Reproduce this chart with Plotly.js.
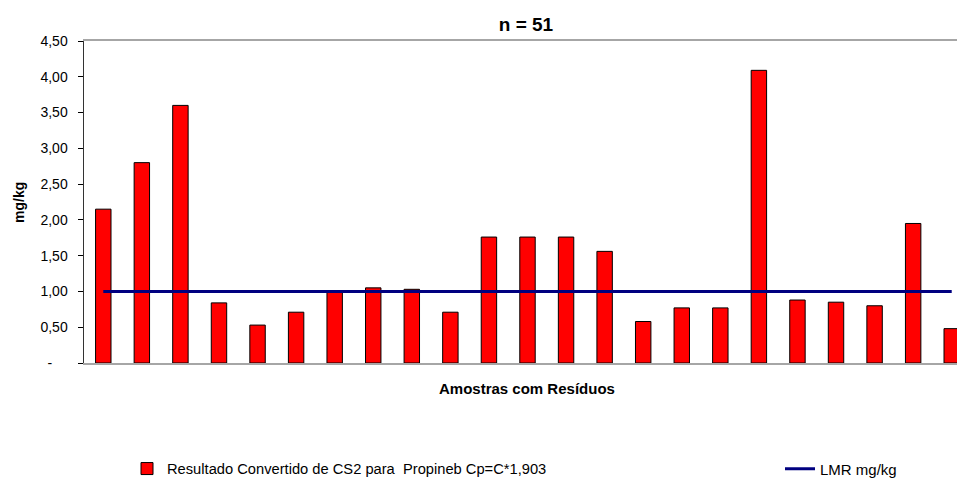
<!DOCTYPE html>
<html>
<head>
<meta charset="utf-8">
<script src="https://cdn.plot.ly/plotly-3.0.1.min.js"></script>
<style>
  html, body { margin: 0; padding: 0; background: #fff; }
  #chart { width: 957px; height: 478px; }
</style>
</head>
<body>
<div id="chart"></div>
<script>
// Samples with residues (one bar per sample)
const amostras = ['1', '2', '3', '4', '5', '6', '7', '8', '9', '10', '11', '12',
                  '13', '14', '15', '16', '17', '18', '19', '20', '21', '22', '23'];

// Result converted from CS2 to Propineb (Cp = C*1,903), mg/kg
const resultados = [2.15, 2.80, 3.60, 0.84, 0.53, 0.71, 1.00, 1.05, 1.03, 0.71, 1.76, 1.76,
                    1.76, 1.56, 0.58, 0.77, 0.77, 4.09, 0.88, 0.85, 0.80, 1.95, 0.48];

// Maximum residue limit, mg/kg
const lmr = 1.00;

// Y axis ticks (comma decimals, dash for zero)
const yTickVals = [0, 0.5, 1.0, 1.5, 2.0, 2.5, 3.0, 3.5, 4.0, 4.5];
const yTickText = ['-\u00a0\u00a0\u00a0\u00a0', '0,50', '1,00', '1,50', '2,00', '2,50',
                   '3,00', '3,50', '4,00', '4,50'];

const FONT = 'Arial, "Liberation Sans", sans-serif';
const W = 957, H = 478;

const barTrace = {
  type: 'bar',
  x: amostras,
  y: resultados,
  name: 'Resultado Convertido de CS2 para  Propineb Cp=C*1,903',
  width: 0.40,
  marker: { color: '#FF0000', line: { color: '#000000', width: 1 } },
  legend: 'legend',
  hoverinfo: 'y'
};

const lmrTrace = {
  type: 'scatter',
  mode: 'lines',
  x: amostras,
  y: amostras.map(() => lmr),
  name: 'LMR mg/kg',
  line: { color: '#000080', width: 3 },
  legend: 'legend2',
  hoverinfo: 'y'
};

const layout = {
  width: W,
  height: H,
  margin: { l: 84, r: 0, t: 41, b: 115 },
  paper_bgcolor: '#ffffff',
  plot_bgcolor: '#ffffff',
  font: { family: FONT, color: '#000000', size: 14 },
  title: {
    text: 'n = 51',
    font: { family: FONT, size: 19, weight: 'bold', color: '#000000' },
    xref: 'container', yref: 'container',
    x: 526 / W, xanchor: 'center',
    y: 1 - 24.5 / H, yanchor: 'middle'
  },
  xaxis: {
    type: 'category',
    range: [-0.5, 22.137],
    showticklabels: false,
    ticks: '',
    showgrid: false,
    zeroline: false,
    showline: true,
    linecolor: '#A6A6A6',
    linewidth: 2,
    mirror: true,
    fixedrange: true
  },
  yaxis: {
    range: [0, 4.5],
    tickvals: yTickVals,
    ticktext: yTickText,
    ticks: 'outside',
    ticklen: 5,
    tickcolor: '#000000',
    tickwidth: 1,
    ticklabelstandoff: 7,
    tickfont: { family: FONT, size: 14, color: '#000000' },
    showgrid: false,
    zeroline: false,
    showline: true,
    linecolor: '#333333',
    linewidth: 1.5,
    fixedrange: true
  },
  annotations: [
    {
      text: 'Amostras com Resíduos',
      xref: 'paper', yref: 'paper',
      x: (527 - 84) / (W - 84), y: -(388 - 363) / (363 - 41),
      xanchor: 'center', yanchor: 'middle',
      showarrow: false,
      font: { family: FONT, size: 15, weight: 'bold', color: '#000000' }
    },
    {
      text: 'mg/kg',
      textangle: -90,
      xref: 'paper', yref: 'paper',
      x: -(84 - 19) / (W - 84), y: (363 - 203) / (363 - 41),
      xanchor: 'center', yanchor: 'middle',
      showarrow: false,
      font: { family: FONT, size: 14, weight: 'bold', color: '#000000' }
    }
  ],
  showlegend: true,
  legend: {
    orientation: 'h',
    xref: 'container', yref: 'container',
    x: 127 / W, xanchor: 'left',
    y: 1 - 469 / H, yanchor: 'middle',
    bgcolor: 'rgba(0,0,0,0)',
    borderwidth: 0,
    font: { family: FONT, size: 14.7, color: '#000000' }
  },
  legend2: {
    orientation: 'h',
    xref: 'container', yref: 'container',
    x: 780 / W, xanchor: 'left',
    y: 1 - 469 / H, yanchor: 'middle',
    bgcolor: 'rgba(0,0,0,0)',
    borderwidth: 0,
    font: { family: FONT, size: 15, color: '#000000' }
  }
};

Plotly.newPlot('chart', [barTrace, lmrTrace], layout, { displayModeBar: false, staticPlot: true });
</script>
</body>
</html>
